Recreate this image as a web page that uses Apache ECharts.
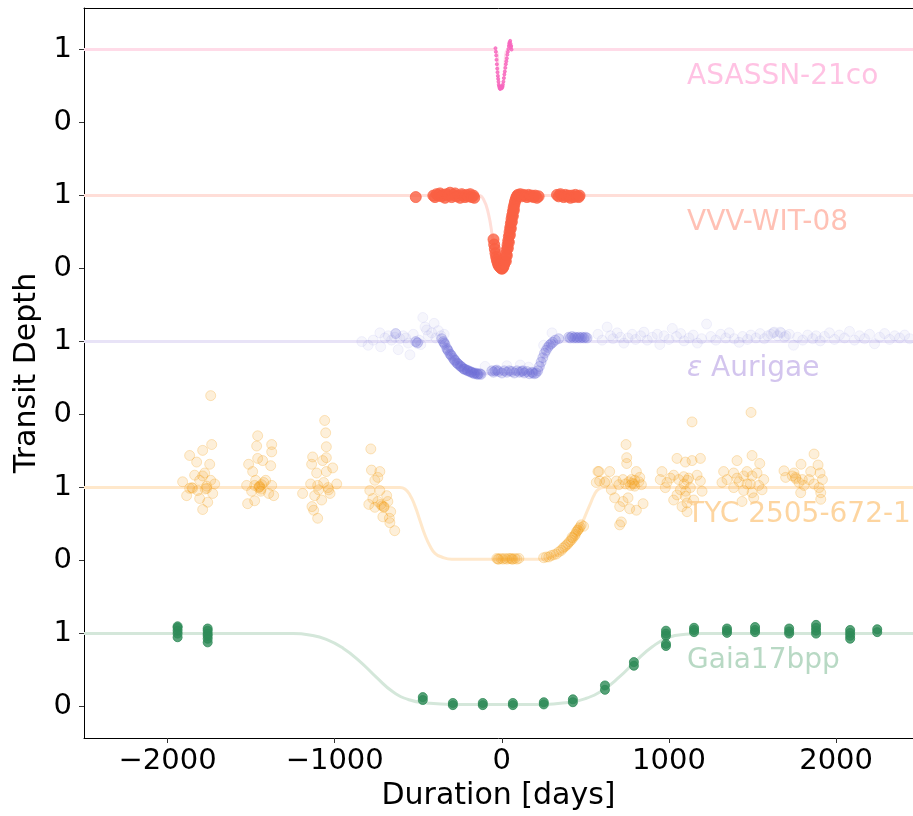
<!DOCTYPE html>
<html>
<head>
<meta charset="utf-8">
<script src="https://cdn.jsdelivr.net/npm/echarts@6/dist/echarts.min.js"></script>
<style>
  html, body { margin: 0; padding: 0; background: #fff; }
  #chart { width: 913px; height: 816px; }
</style>
</head>
<body>
<div id="chart"></div>
<script>
// light curves, [days, depth] ; each object is stacked with its own offset
const names = ['Gaia17bpp', 'TYC 2505-672-1', 'ε Aurigae', 'VVV-WIT-08', 'ASASSN-21co'];
const offsets = [0, 2, 4, 6, 8];
const xTicks = [-2000, -1000, 0, 1000, 2000];
const yTicks = [0, 1, 2, 3, 4, 5, 6, 7, 8, 9];
const labelPos = [1105, 0.63];

const asassnPts = [
  [-38,1.02],[-36,0.97],[-34,0.92],[-32,0.86],[-30,0.8],[-28,0.74],[-26,0.69],[-24,0.64],[-22,0.6],
  [-20,0.56],[-18,0.52],[-16,0.5],[-14,0.48],[-12,0.47],[-10,0.46],[-8,0.48],[-6,0.47],[-4,0.49],
  [-2,0.48],[0,0.47],[2,0.5],[4,0.49],[6,0.52],[9,0.56],[12,0.61],[15,0.66],[18,0.7],[21,0.75],
  [24,0.8],[27,0.84],[30,0.88],[33,0.93],[36,0.97],[39,1.01],[42,1.05],[44,1.08],[46,1.1],
  [48,1.06],[50,1.12],[52,1.08],[54,1.03],[56,1.05],[58,1.0]
];
const asassnModel = [[-2500,1],[-40,1],[-12,0.47],[6,0.5],[42,1],[2460,1]];

const vvvPts = [
  [-515,0.98],
  [-410,1.0],[-400,0.98],[-390,1.02],[-380,1.0],[-370,1.03],[-360,0.99],[-350,1.01],[-340,0.97],
  [-330,1.02],[-320,1.0],[-310,1.04],[-300,0.98],[-290,1.01],[-280,1.03],[-270,0.99],[-260,1.0],
  [-250,0.97],[-240,1.02],[-230,1.0],[-220,0.98],[-210,1.01],[-200,0.99],[-190,1.02],[-180,0.98],
  [-170,1.0],[-165,0.97],
  [-50,0.4],[-46,0.33],[-42,0.27],[-38,0.21],[-34,0.16],[-30,0.12],[-26,0.09],[-22,0.06],[-18,0.04],
  [-14,0.03],[-10,0.02],[-6,0.01],[-2,0.0],[2,0.0],[6,0.01],[10,0.03],[14,0.06],[18,0.1],[22,0.15],
  [26,0.2],[30,0.26],[34,0.32],[38,0.38],[42,0.44],[46,0.5],[50,0.56],[54,0.62],[58,0.68],[62,0.73],
  [66,0.78],[70,0.83],[74,0.87],[78,0.91],[82,0.94],[86,0.97],[90,0.99],[95,1.01],
  [24,0.1],[30,0.18],[36,0.28],[42,0.36],[48,0.46],[54,0.55],[60,0.64],[66,0.72],[72,0.8],
  [100,1.0],[110,1.02],[120,0.99],[130,1.01],[140,1.0],[150,0.98],[160,1.01],[170,0.99],[180,1.0],
  [190,0.98],[200,1.0],[210,0.97],[220,0.99],
  [330,1.01],[340,0.99],[350,1.02],[360,1.0],[370,0.98],[380,1.01],[390,0.99],[400,1.0],[410,0.97],
  [420,1.0],[430,0.98],[440,1.01],[450,0.99],[460,0.98],[465,1.0]
];
const vvvModel = [[-2500,1],[-140,1],[-110,0.95],[-80,0.75],[-55,0.42],[-30,0.1],[0,0],[30,0.3],
  [60,0.78],[90,0.99],[110,1],[2460,1]];

// sparse ε Aurigae observations
const aurSparse = [
  [-838,1.0],[-800,0.95],[-770,1.02],[-730,1.12],[-725,0.93],[-700,1.05],[-680,1.08],[-660,1.02],
  [-640,1.06],[-620,0.89],[-610,1.04],[-590,1.08],[-575,1.05],[-560,0.98],[-550,0.82],
  [-530,1.1],[-503,0.99],[-495,1.02],[-485,0.96],[-473,1.33],[-460,1.2],[-450,1.16],
  [-440,1.08],[-420,1.12],[-405,1.25],[-395,1.05],[-380,1.15],[-365,1.08],[-345,1.1],
  [-100,0.66],[30,0.67],[110,0.68],[160,0.65],[250,0.95],[300,1.12],
  [575,1.1],[600,1.02],[630,1.2],[650,1.08],[665,1.04],[690,1.12],[710,1.06],[730,0.98],[755,1.05],
  [780,1.1],[800,1.03],[830,1.08],[850,1.13],[870,1.02],[900,1.06],[930,1.1],[945,0.96],[970,1.08],
  [1000,1.03],[1020,1.18],[1045,1.07],[1070,1.11],[1090,1.01],[1120,1.05],[1145,1.09],[1170,0.98],
  [1195,1.04],[1225,1.24],[1250,1.07],[1280,1.02],[1310,1.1],[1340,1.05],[1360,1.12],[1390,1.04],
  [1420,0.99],[1440,1.07],[1470,1.03],[1490,1.09],[1520,1.05],[1545,1.11],[1570,1.04],[1590,1.08],
  [1610,1.1],[1630,1.13],[1650,1.08],[1670,1.12],[1690,1.06],[1720,1.1],[1745,0.95],[1770,1.06],
  [1625,1.12],[1665,1.13],[1700,1.08],
  [1800,1.02],[1830,1.09],[1860,1.04],[1880,1.08],[1905,1.01],[1930,1.07],[1960,1.12],[1990,1.03],
  [2020,1.09],[2050,1.05],[2080,1.14],[2110,1.02],[2140,1.08],[2170,1.04],[2200,1.1],[2230,0.97],
  [2260,1.06],[2290,1.11],[2320,1.03],[2350,1.08],[2380,1.05],[2410,1.09],[2440,1.04]
];
// densely sampled ε Aurigae observations (eclipse and a few runs)
const aurDense = [
  [-635,1.11],[-515,1.0],[-505,0.98],
  [-360,1.04],[-350,1.0],[-340,0.96],[-330,0.91],[-320,0.87],[-310,0.83],[-300,0.8],[-290,0.77],
  [-280,0.74],[-270,0.71],[-260,0.69],[-250,0.67],[-240,0.65],[-230,0.63],[-220,0.62],[-210,0.61],
  [-200,0.6],[-190,0.59],[-180,0.58],[-170,0.57],[-160,0.57],[-150,0.56],[-140,0.56],[-130,0.56],
  [-345,0.98],[-325,0.89],[-305,0.82],[-285,0.75],[-265,0.7],[-245,0.66],[-225,0.62],[-205,0.6],
  [-185,0.58],[-165,0.56],[-145,0.55],[-125,0.55],
  [-60,0.6],[-50,0.58],[-40,0.6],[-30,0.61],[-20,0.59],[0,0.57],
  [15,0.6],[30,0.58],[45,0.6],[60,0.59],[75,0.57],[90,0.6],[105,0.58],[120,0.59],[135,0.57],
  [150,0.59],[165,0.56],[180,0.58],[195,0.56],[205,0.57],[125,0.6],[185,0.57],
  [215,0.6],[225,0.66],[235,0.72],[245,0.78],[255,0.84],[265,0.88],[275,0.92],[285,0.95],[295,0.97],
  [305,0.99],[320,1.02],[340,1.04],
  [400,1.06],[410,1.05],[420,1.07],[430,1.05],[440,1.06],[450,1.05],[460,1.06],[470,1.05],
  [480,1.06],[490,1.05],[500,1.06],[510,1.05]
];
const aurModel = [[-2500,1],[-370,1],[-300,0.8],[-200,0.6],[-130,0.56],[210,0.57],[260,0.85],
  [320,1.0],[2460,1]];

const tycPts = [
  [-1868,1.44],[-1790,1.51],[-1826,1.35],[-1748,1.32],[-1736,1.59],[-1742,2.26],[-1790,1.16],
  [-1910,1.08],[-1868,0.99],[-1820,0.96],[-1766,0.99],[-1718,1.05],[-1886,0.89],[-1808,0.85],
  [-1760,0.8],[-1790,0.7],[-1838,1.17],[-1730,0.92],[-1850,0.99],[-1766,1.02],[-1778,1.2],
  [-1742,1.1],[-1808,1.1],[-1855,1.0],[-1775,0.98],
  [-1461,1.71],[-1467,1.57],[-1377,1.59],[-1377,1.49],[-1515,1.32],[-1461,1.4],[-1431,1.37],
  [-1383,1.3],[-1491,1.22],[-1527,1.03],[-1479,1.03],[-1449,1.01],[-1413,1.1],[-1377,1.03],
  [-1443,0.95],[-1497,0.95],[-1521,0.78],[-1479,0.82],[-1365,0.89],[-1395,0.92],[-1425,1.07],
  [-1473,1.1],[-1455,1.0],[-1437,1.04],[-1450,1.02],[-1440,0.98],
  [-1060,1.92],[-1054,1.75],[-1050,1.56],[-1132,1.42],[-1050,1.41],[-1138,1.32],[-1072,1.37],
  [-1012,1.27],[-1108,1.2],[-1050,1.22],[-988,1.05],[-1144,1.05],[-1102,1.03],[-1066,1.07],
  [-1036,0.97],[-1192,0.92],[-1120,0.89],[-1078,0.83],[-1136,0.74],[-1126,0.69],[-1102,0.58],
  [-1028,0.92],[-1096,0.97],[-1040,1.0],
  [-784,1.53],[-780,1.24],[-730,1.22],[-760,1.1],[-742,1.14],[-790,0.96],[-730,0.96],[-689,0.89],
  [-772,0.85],[-796,0.77],[-724,0.77],[-706,0.73],[-760,0.73],[-665,0.67],[-673,0.58],[-670,0.52],
  [-641,0.41],[-712,0.6],[-742,0.81],[-682,0.81],[-716,0.75],[-705,0.74],
  [-30,0.03],[-18,0.02],[-6,0.03],[6,0.02],[18,0.03],[30,0.02],[42,0.03],[54,0.03],[66,0.02],
  [78,0.03],[90,0.02],[102,0.03],[-24,0.02],[60,0.02],
  [250,0.04],[266,0.05],[281,0.05],[296,0.07],[311,0.08],[326,0.09],[341,0.12],[356,0.14],[366,0.17],
  [376,0.19],[386,0.21],[395,0.23],[405,0.26],[415,0.28],[425,0.31],[435,0.34],[445,0.39],[453,0.41],
  [461,0.44],[468,0.46],[475,0.49],[489,0.47],[440,0.36],[455,0.42],[420,0.32],
  [743,1.59],[747,1.41],[747,1.33],[581,1.22],[645,1.22],[805,1.22],[585,1.09],[625,1.09],[685,1.09],
  [725,1.11],[775,1.11],[825,1.14],[795,1.02],[675,0.86],[725,0.81],[705,0.74],[765,0.71],[805,0.69],
  [845,0.78],[715,0.53],[705,0.49],[755,0.86],[655,0.97],[615,1.07],[795,1.1],[835,1.04],[565,1.07],
  [575,1.22],[760,1.08],[780,1.06],[740,1.05],[700,1.04],[820,1.08],[790,1.05],[770,1.03],
  [1138,1.9],[1048,1.4],[1098,1.35],[1138,1.37],[1188,1.4],[958,1.22],[1028,1.17],[1088,1.15],
  [1168,1.17],[948,1.11],[988,1.07],[1058,1.11],[1118,1.13],[1188,1.09],[978,1.0],[1068,0.97],
  [1128,1.0],[1198,0.95],[1048,0.9],[1098,0.88],[1028,0.83],[1108,0.79],[1078,0.74],[1108,0.67],
  [1148,0.83],[1008,1.13],[1090,1.05],[1110,1.1],[1100,0.95],
  [1491,2.03],[1407,1.37],[1497,1.44],[1543,1.33],[1327,1.22],[1387,1.2],[1467,1.22],[1527,1.2],
  [1347,1.11],[1407,1.13],[1447,1.16],[1497,1.16],[1567,1.11],[1317,1.07],[1467,1.05],[1537,1.03],
  [1387,1.0],[1447,0.96],[1497,0.93],[1557,0.97],[1437,0.81],[1507,0.86],[1487,1.05],[1420,1.08],
  [1868,1.46],[1790,1.32],[1892,1.31],[1688,1.23],[1748,1.2],[1848,1.22],[1904,1.2],[1698,1.14],
  [1758,1.14],[1798,1.11],[1838,1.11],[1918,1.11],[1778,1.07],[1868,1.05],[1808,1.03],[1898,1.0],
  [1788,0.93],[1908,0.93],[1908,0.84],[1738,1.16],[1760,1.12]
];
const tycModel = [[-2500,1],[-610,1],[-580,0.98],[-550,0.9],[-520,0.75],[-490,0.55],[-460,0.35],
  [-430,0.2],[-400,0.1],[-360,0.05],[-300,0.02],[250,0.02],[300,0.05],[350,0.1],[400,0.18],
  [440,0.3],[470,0.45],[500,0.62],[530,0.78],[555,0.91],[580,0.98],[610,1],[2460,1]];

const gaiaPts = [
  [-1940,0.95],[-1940,1.0],[-1940,1.04],[-1940,1.08],[-1940,1.1],
  [-1760,0.88],[-1760,0.93],[-1760,0.97],[-1760,1.0],[-1760,1.04],[-1760,1.07],
  [-473,0.09],[-473,0.13],[-293,0.02],[-293,0.05],[-114,0.02],[-114,0.05],[66,0.02],[66,0.05],
  [251,0.03],[251,0.06],[425,0.06],[425,0.1],[617,0.23],[617,0.29],[790,0.56],[790,0.61],
  [982,0.83],[982,0.86],[982,0.97],[982,1.0],[982,1.04],
  [1150,1.02],[1150,1.05],[1150,1.08],[1347,1.01],[1347,1.04],[1347,1.07],
  [1515,1.02],[1515,1.05],[1515,1.09],[1719,1.0],[1719,1.03],[1719,1.07],
  [1880,1.0],[1880,1.04],[1880,1.08],[1880,1.12],[2084,0.93],[2084,0.97],[2084,1.01],[2084,1.05],
  [2246,1.02],[2246,1.06]
];
const gaiaModel = [[-2500,1],[-1250,1],[-1150,0.98],[-1050,0.92],[-950,0.8],[-850,0.62],
  [-750,0.4],[-650,0.2],[-550,0.09],[-450,0.05],[-300,0.03],[250,0.03],[400,0.06],[500,0.11],
  [600,0.22],[700,0.4],[800,0.62],[900,0.82],[1000,0.95],[1100,0.99],[1200,1],[2460,1]];

const FONT = 'DejaVu Sans';
const shift = (arr, off) => arr.map(p => [p[0], p[1] + off]);

const modelSets = [gaiaModel, tycModel, aurModel, vvvModel, asassnModel];
const lineColors = ['#d4e7da', '#ffe8cb', '#e8e3f7', '#ffded8', '#ffdbe8'];
const labelColors = ['#a6cfb5', '#fdcb88', '#c8b6ea', '#ffb2a2', '#ffb3dc'];
const pointLayers = [
  { data: gaiaPts, off: 0, size: 9, color: '#2e8b57', border: '#2e8b57' },
  { data: tycPts, off: 2, size: 10, color: 'rgba(245,158,18,0.2)', border: 'rgba(245,158,18,0.32)' },
  { data: aurSparse, off: 4, size: 10, color: 'rgba(106,106,214,0.08)', border: 'rgba(106,106,214,0.1)' },
  { data: aurDense, off: 4, size: 10, color: 'rgba(106,106,214,0.3)', border: 'rgba(106,106,214,0.3)' },
  { data: vvvPts, off: 6, size: 11, color: '#fa6043', border: '#fa6043' },
  { data: asassnPts, off: 8, size: 3, color: '#f766be', border: '#f766be' }
];

const series = [];
modelSets.forEach((m, i) => {
  series.push({
    type: 'line', data: shift(m, offsets[i]), showSymbol: false, silent: true,
    smooth: 0.5, z: 1,
    lineStyle: { color: lineColors[i], width: 3 }
  });
});
pointLayers.forEach(s => {
  series.push({
    type: 'scatter', data: shift(s.data, s.off), symbolSize: s.size, silent: true, z: 2,
    itemStyle: { color: s.color, borderColor: s.border, borderWidth: 1 }
  });
});
series.push({
  type: 'scatter', silent: true, z: 3, symbolSize: 1,
  itemStyle: { color: 'transparent' },
  data: names.map((n, i) => ({
    name: n, value: [labelPos[0], offsets[i] + labelPos[1]],
    label: { color: labelColors[i] }
  })),
  label: {
    show: true, position: 'right', distance: 0,
    fontFamily: FONT, fontSize: 28,
    formatter: p => p.name.startsWith('ε') ? '{e|ε}' + p.name.slice(1) : p.name,
    rich: { e: { fontStyle: 'italic', fontFamily: FONT, fontSize: 28, color: labelColors[2] } }
  }
});

const chart = echarts.init(document.getElementById('chart'), null, { renderer: 'canvas' });
chart.setOption({
  animation: false,
  backgroundColor: '#fff',
  grid: { left: 84, right: 0, top: 8, bottom: 76 },
  xAxis: [{
    type: 'value', min: -2500, max: 2460,
    name: 'Duration [days]', nameLocation: 'middle', nameGap: 43,
    nameTextStyle: { fontFamily: FONT, fontSize: 30, color: '#000' },
    axisLine: { onZero: false, lineStyle: { color: '#000', width: 1 } },
    axisTick: { show: true, customValues: xTicks, length: 5, lineStyle: { color: '#333' } },
    axisLabel: {
      customValues: xTicks, margin: 9, fontFamily: FONT, fontSize: 29, color: '#000',
      formatter: v => String(v).replace('-', '\u2212')
    },
    splitLine: { show: false }
  }, {
    type: 'value', position: 'top', min: -2500, max: 2460,
    axisLine: { show: true, onZero: false, lineStyle: { color: '#000', width: 1 } },
    axisTick: { show: false }, axisLabel: { show: false }, splitLine: { show: false }
  }],
  yAxis: {
    type: 'value', min: -0.43, max: 9.57,
    name: 'Transit Depth', nameLocation: 'middle', nameGap: 38,
    nameTextStyle: { fontFamily: FONT, fontSize: 30, color: '#000' },
    axisLine: { show: true, onZero: false, lineStyle: { color: '#000', width: 1 } },
    axisTick: { show: true, customValues: yTicks, length: 5, lineStyle: { color: '#333' } },
    axisLabel: {
      customValues: yTicks, margin: 12, fontFamily: FONT, fontSize: 29, color: '#000',
      formatter: v => String(Math.round(v) % 2)
    },
    splitLine: { show: false }
  },
  series: series
});
</script>
</body>
</html>
